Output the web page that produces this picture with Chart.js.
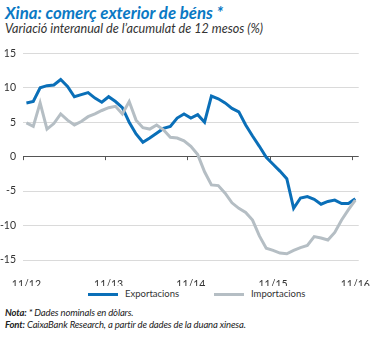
<!DOCTYPE html>
<html>
<head>
<meta charset="utf-8">
<script src="https://cdn.jsdelivr.net/npm/chart.js@4.4.0/dist/chart.umd.min.js"></script>
<style>
  html, body { margin: 0; padding: 0; background: #fff; }
  body { width: 380px; height: 338px; position: relative; overflow: hidden; font-family: Lato, "Open Sans", sans-serif; }
  #title { position: absolute; left: 5px; top: 2px; font-size: 16.8px; font-weight: bold; font-style: italic; color: #0a79c4; white-space: nowrap; }
  #subtitle { position: absolute; left: 5px; top: 21px; font-size: 12.6px; font-style: italic; color: #333; white-space: nowrap; }
  #wrap { position: absolute; left: 0; top: 40px; width: 380px; height: 246px; }
  .leg { position: absolute; top: 288px; font-size: 9.5px; color: #333; white-space: nowrap; }
  .sw { position: absolute; top: 293px; width: 30px; height: 3px; }
  .note { position: absolute; left: 5px; font-size: 9.5px; font-style: italic; color: #222; white-space: nowrap; letter-spacing: -0.15px; }
</style>
</head>
<body>
<div id="title">Xina: comerç exterior de béns *</div>
<div id="subtitle">Variació interanual de l’acumulat de 12 mesos (%)</div>
<div id="wrap"><canvas id="c"></canvas></div>
<div class="sw" style="left:88px;background:#0a6fb8"></div>
<div class="leg" style="left:125px">Exportacions</div>
<div class="sw" style="left:214px;background:#b5bec4"></div>
<div class="leg" style="left:251px">Importacions</div>
<div class="note" style="top:307px"><b>Nota:</b> * Dades nominals en dòlars.</div>
<div class="note" style="top:319px"><b>Font:</b> CaixaBank Research, a partir de dades de la duana xinesa.</div>
<script>
// Monthly data, 11/2012 .. 11/2016
const months = ["11/12","12/12","01/13","02/13","03/13","04/13","05/13","06/13","07/13","08/13","09/13","10/13",
  "11/13","12/13","01/14","02/14","03/14","04/14","05/14","06/14","07/14","08/14","09/14","10/14",
  "11/14","12/14","01/15","02/15","03/15","04/15","05/15","06/15","07/15","08/15","09/15","10/15",
  "11/15","12/15","01/16","02/16","03/16","04/16","05/16","06/16","07/16","08/16","09/16","10/16","11/16"];
const exportacions = [7.8, 8.0, 10.0, 10.3, 10.4, 11.2, 10.2, 8.7, 9.0, 9.3, 8.5, 7.9,
  8.7, 8.0, 7.1, 5.0, 3.3, 2.1, 2.7, 3.4, 4.1, 4.4, 5.6, 6.2,
  5.6, 6.1, 5.0, 8.8, 8.4, 7.8, 7.0, 6.5, 4.6, 3.0, 1.5, -0.1,
  -1.1, -2.1, -3.2, -7.5, -6.0, -5.8, -6.2, -6.9, -6.5, -6.3, -6.8, -6.8, -6.1];
const importacions = [4.9, 4.4, 7.8, 4.0, 4.8, 6.2, 5.3, 4.6, 5.1, 5.8, 6.2, 6.7,
  7.1, 7.3, 6.2, 8.0, 5.3, 4.2, 4.0, 4.6, 3.9, 2.8, 2.7, 2.3,
  1.5, 0.3, -2.2, -4.1, -4.2, -5.3, -6.7, -7.5, -8.1, -9.2, -11.5, -13.3,
  -13.6, -14.0, -14.1, -13.6, -13.2, -12.9, -11.6, -11.8, -12.1, -11.0, -9.2, -7.7, -6.3];
const xTickLabels = ["11/12", "11/13", "11/14", "11/15", "11/16"];
const yTicks = [-15, -10, -5, 0, 5, 10, 15];

const labelIdx = xTickLabels.map(l => months.indexOf(l));

const zeroTicks = {
  id: 'zeroTicks',
  beforeDatasetsDraw(chart) {
    const xs = chart.scales.x, ys = chart.scales.y, ctx = chart.ctx;
    const y0 = ys.getPixelForValue(0);
    ctx.save();
    ctx.strokeStyle = '#555';
    ctx.lineWidth = 1;
    labelIdx.forEach(i => {
      const x = Math.round(xs.getPixelForValue(i - 0.5)) + 0.5;
      ctx.beginPath(); ctx.moveTo(x, y0); ctx.lineTo(x, y0 + 3.5); ctx.stroke();
    });
    ctx.restore();
  }
};

new Chart(document.getElementById('c'), {
  type: 'line',
  data: {
    datasets: [
      { label: 'Importacions', data: importacions.map((v, i) => ({x: i, y: v})),
        borderColor: '#b5bec4', borderWidth: 3, pointRadius: 0, tension: 0, fill: false },
      { label: 'Exportacions', data: exportacions.map((v, i) => ({x: i, y: v})),
        borderColor: '#0a6fb8', borderWidth: 3, pointRadius: 0, tension: 0, fill: false }
    ]
  },
  options: {
    responsive: true, maintainAspectRatio: false, animation: false,
    layout: { padding: { left: 0, right: 14, top: 5, bottom: 0 } },
    plugins: { legend: { display: false }, tooltip: { enabled: false } },
    scales: {
      x: {
        type: 'linear', min: -0.5, max: 48.5,
        afterBuildTicks(s) { s.ticks = labelIdx.map(v => ({ value: v })); },
        afterFit(s) { s.height = 26; },
        grid: { display: false }, border: { display: false },
        ticks: { autoSkip: false, maxRotation: 0, padding: 10, color: '#333',
          font: { family: 'Lato', size: 10.5 },
          callback: (v, i) => xTickLabels[i] }
      },
      y: {
        min: -15, max: 15,
        afterBuildTicks(s) { s.ticks = yTicks.map(v => ({ value: v })); },
        afterFit(s) { s.width = 23; },
        border: { display: false },
        grid: { drawTicks: false, lineWidth: 1,
          color: c => c.tick && c.tick.value === 0 ? '#555' : '#dadada' },
        ticks: { padding: 7, color: '#333', font: { family: 'Lato', size: 10.5 } }
      }
    }
  },
  plugins: [zeroTicks]
});
</script>
</body>
</html>
